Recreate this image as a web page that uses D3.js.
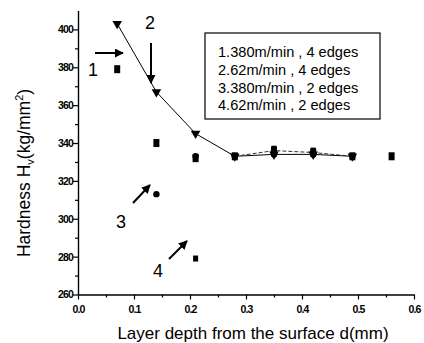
<!DOCTYPE html>
<html>
<head>
<meta charset="utf-8">
<script src="https://cdn.jsdelivr.net/npm/d3@7"></script>
<style>
  body { margin: 0; background: #fff; }
  svg { font-family: "Liberation Sans", Arial, sans-serif; }
</style>
</head>
<body>
<div id="plot"></div>
<script>
// data
const depth = [0.07, 0.14, 0.21, 0.28, 0.35, 0.42, 0.49, 0.56];
const s1 = [379, 340, 332, 333, 336, 335, 333, 333];     // 380m/min, 4 edges
const s2 = [403, 367, 345, 333, 334, 334, 333, null];    // 62m/min, 4 edges
const s3 = [null, 313, 333, 333, 334, 334, 333, null];   // 380m/min, 2 edges
const s4 = [null, null, 279, null, 337, 336, null, null]; // 62m/min, 2 edges
const legendLines = ["1.380m/min , 4 edges", "2.62m/min , 4 edges", "3.380m/min , 2 edges", "4.62m/min , 2 edges"];
const xTicks = [0, 0.1, 0.2, 0.3, 0.4, 0.5, 0.6];
const yTicks = [260, 280, 300, 320, 340, 360, 380, 400];

const width = 424, height = 343;

const x = d3.scaleLinear().domain([0, 0.6]).range([78, 414]);
const y = d3.scaleLinear().domain([260, 410]).range([294.5, 10.5]);

const svg = d3.select("#plot").append("svg")
    .attr("width", width)
    .attr("height", height);

// axes: left and bottom only
const xAxis = svg.append("g")
    .attr("transform", `translate(0,${y(260)})`)
    .call(d3.axisBottom(x).tickValues(xTicks).tickFormat(d3.format(".1f")).tickSize(5).tickSizeOuter(0));
const yAxis = svg.append("g")
    .attr("transform", `translate(${x(0)},0)`)
    .call(d3.axisLeft(y).tickValues(yTicks).tickFormat(d3.format("d")).tickSize(5).tickSizeOuter(0));

// minor ticks
svg.append("g").attr("transform", `translate(0,${y(260)})`)
    .call(d3.axisBottom(x).tickValues(d3.range(0.05, 0.6, 0.1)).tickFormat("").tickSize(3).tickSizeOuter(0))
    .select(".domain").remove();
svg.append("g").attr("transform", `translate(${x(0)},0)`)
    .call(d3.axisLeft(y).tickValues(d3.range(270, 410, 20)).tickFormat("").tickSize(3).tickSizeOuter(0))
    .select(".domain").remove();

svg.selectAll(".domain").attr("stroke-width", 1.4);
svg.selectAll(".tick line").attr("stroke-width", 1.2);
svg.selectAll(".tick text")
    .style("font-family", "'Liberation Sans Narrow', 'Liberation Sans', sans-serif")
    .style("font-size", "10.5px")
    .style("font-weight", "bold")
    .style("letter-spacing", "-0.8px")
    .attr("fill", "#000");
xAxis.selectAll(".tick text").attr("dy", "1.0em");
yAxis.selectAll(".tick text").attr("x", -5);

// axis titles
svg.append("text")
    .attr("x", 253).attr("y", 339)
    .attr("text-anchor", "middle")
    .style("font-size", "17px")
    .text("Layer depth from the surface d(mm)");

const yt = svg.append("text")
    .attr("transform", "translate(30,173) rotate(-90)")
    .attr("text-anchor", "middle")
    .style("font-size", "17.5px");
yt.append("tspan").text("Hardness H");
yt.append("tspan").attr("font-size", "11px").attr("dy", 4).text("v");
yt.append("tspan").attr("dy", -4).text("(kg/mm");
yt.append("tspan").attr("font-size", "11px").attr("dy", -7).text("2");
yt.append("tspan").attr("dy", 7).text(")");

// helper to pair depth with values
const pts = arr => depth.map((d, i) => ({ d, v: arr[i] })).filter(p => p.v != null);

// line through series 2
const line = d3.line().x(p => x(p.d)).y(p => y(p.v));
svg.append("path")
    .datum(pts(s2).slice(0, 7))
    .attr("d", line)
    .attr("fill", "none")
    .attr("stroke", "#000")
    .attr("stroke-width", 1);

// thin dashed line along the plateau (series 1 and 3 overlapping)
svg.append("path")
    .datum(pts(s1).slice(3, 7))
    .attr("d", line)
    .attr("fill", "none")
    .attr("stroke", "#333")
    .attr("stroke-width", 1)
    .attr("stroke-dasharray", "4,2");

// series 1: filled squares (tall)
svg.selectAll(".m1").data(pts(s1)).enter().append("rect")
    .attr("x", p => x(p.d) - 3).attr("y", p => y(p.v) - 4)
    .attr("width", 6).attr("height", 8)
    .attr("fill", "#000");

// series 3: filled circles
svg.selectAll(".m3").data(pts(s3)).enter().append("circle")
    .attr("cx", p => x(p.d)).attr("cy", p => y(p.v))
    .attr("r", 3.2)
    .attr("fill", "#000");

// series 4: small squares
svg.selectAll(".m4").data(pts(s4)).enter().append("rect")
    .attr("x", p => x(p.d) - 2.5).attr("y", p => y(p.v) - 3)
    .attr("width", 5).attr("height", 6)
    .attr("fill", "#000");

// series 2: down triangles
svg.selectAll(".m2").data(pts(s2)).enter().append("path")
    .attr("d", d3.symbol().type(d3.symbolTriangle).size(40))
    .attr("transform", p => `translate(${x(p.d)},${y(p.v)}) rotate(180)`)
    .attr("fill", "#000");

// legend box
svg.append("rect")
    .attr("x", 205).attr("y", 33)
    .attr("width", 175).attr("height", 86)
    .attr("fill", "#fff")
    .attr("stroke", "#000")
    .attr("stroke-width", 1.2);
svg.selectAll(".leg").data(legendLines).enter().append("text")
    .attr("x", 218).attr("y", (d, i) => 57 + i * 17.8)
    .style("font-size", "14.6px")
    .text(d => d);

// arrows and numbers
svg.append("defs").append("marker")
    .attr("id", "ah")
    .attr("viewBox", "0 0 10 10")
    .attr("refX", 9).attr("refY", 5)
    .attr("markerWidth", 4.5).attr("markerHeight", 4.5)
    .attr("orient", "auto")
    .append("path").attr("d", "M0,0L10,5L0,10z").attr("fill", "#000");

const arrows = [
    [95, 53, 123, 53],
    [151, 43, 151, 83],
    [133, 203, 150, 185],
    [169, 259, 187, 241]
];
svg.selectAll(".arr").data(arrows).enter().append("line")
    .attr("x1", d => d[0]).attr("y1", d => d[1])
    .attr("x2", d => d[2]).attr("y2", d => d[3])
    .attr("stroke", "#000")
    .attr("stroke-width", 2)
    .attr("marker-end", "url(#ah)");

const nums = [["1", 93, 76], ["2", 150, 29], ["3", 121, 228], ["4", 158, 277]];
svg.selectAll(".num").data(nums).enter().append("text")
    .attr("x", d => d[1]).attr("y", d => d[2])
    .attr("text-anchor", "middle")
    .style("font-size", "18px")
    .text(d => d[0]);
</script>
</body>
</html>
